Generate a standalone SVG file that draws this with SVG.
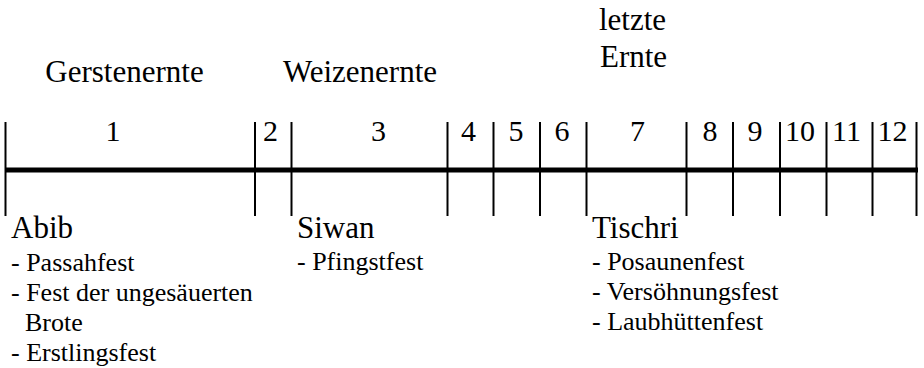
<svg xmlns="http://www.w3.org/2000/svg" width="924" height="368" viewBox="0 0 924 368">
  <style>
    text { fill: #000; }
    .big { font-size: 31px; }
    .num { font-size: 30px; text-anchor: middle; }
    .item { font-size: 26px; }
    .tick { stroke: #000; stroke-width: 2; }
    .axis { stroke: #000; stroke-width: 5; }
  </style>
  <rect width="924" height="368" fill="#fff"/>

  <!-- timeline: main axis and month dividers -->
  <g id="connectors">
    <line class="axis" x1="5" y1="170" x2="918" y2="170"/>
    <line class="tick" x1="5.5" y1="122" x2="5.5" y2="216"/>
    <line class="tick" x1="255" y1="122" x2="255" y2="216"/>
    <line class="tick" x1="291.5" y1="122" x2="291.5" y2="216"/>
    <line class="tick" x1="447.5" y1="122" x2="447.5" y2="216"/>
    <line class="tick" x1="493.5" y1="122" x2="493.5" y2="216"/>
    <line class="tick" x1="540" y1="122" x2="540" y2="216"/>
    <line class="tick" x1="586.5" y1="122" x2="586.5" y2="216"/>
    <line class="tick" x1="686.5" y1="122" x2="686.5" y2="216"/>
    <line class="tick" x1="733" y1="122" x2="733" y2="216"/>
    <line class="tick" x1="780" y1="122" x2="780" y2="216"/>
    <line class="tick" x1="826.5" y1="122" x2="826.5" y2="216"/>
    <line class="tick" x1="872.5" y1="122" x2="872.5" y2="216"/>
    <line class="tick" x1="916.5" y1="122" x2="916.5" y2="216"/>
  </g>

  <!-- harvest labels -->
  <g id="gerstenernte" font-family="Times New Roman"><text class="big" x="124.5" y="82" text-anchor="middle">Gerstenernte</text></g>
  <g id="weizenernte" font-family="Times New Roman"><text class="big" x="360" y="82" text-anchor="middle">Weizenernte</text></g>
  <g id="letzte-ernte" font-family="Times New Roman">
    <text class="big" x="599" y="30">letzte</text>
    <text class="big" x="600" y="67">Ernte</text>
  </g>

  <!-- month numbers -->
  <g id="months" font-family="Times New Roman">
    <text class="num" x="113" y="141">1</text>
    <text class="num" x="270.5" y="141">2</text>
    <text class="num" x="378.5" y="141">3</text>
    <text class="num" x="468.5" y="141">4</text>
    <text class="num" x="516" y="141">5</text>
    <text class="num" x="562" y="141">6</text>
    <text class="num" x="637.5" y="141">7</text>
    <text class="num" x="710" y="141">8</text>
    <text class="num" x="755" y="141">9</text>
    <text class="num" x="800" y="141">10</text>
    <text class="num" x="846.5" y="141">11</text>
    <text class="num" x="892.5" y="141">12</text>
  </g>

  <!-- feast months -->
  <g id="abib" font-family="Times New Roman">
    <text class="big" x="11" y="238">Abib</text>
    <text class="item" x="11" y="270.5">- Passahfest</text>
    <text class="item" x="11" y="300.5">- Fest der ungesäuerten</text>
    <text class="item" x="25" y="330.5">Brote</text>
    <text class="item" x="11" y="360.5">- Erstlingsfest</text>
  </g>
  <g id="siwan" font-family="Times New Roman">
    <text class="big" x="297" y="238">Siwan</text>
    <text class="item" x="297" y="270">- Pfingstfest</text>
  </g>
  <g id="tischri" font-family="Times New Roman">
    <text class="big" x="592" y="238">Tischri</text>
    <text class="item" x="592" y="270">- Posaunenfest</text>
    <text class="item" x="592" y="300">- Versöhnungsfest</text>
    <text class="item" x="592" y="329.5">- Laubhüttenfest</text>
  </g>
</svg>
